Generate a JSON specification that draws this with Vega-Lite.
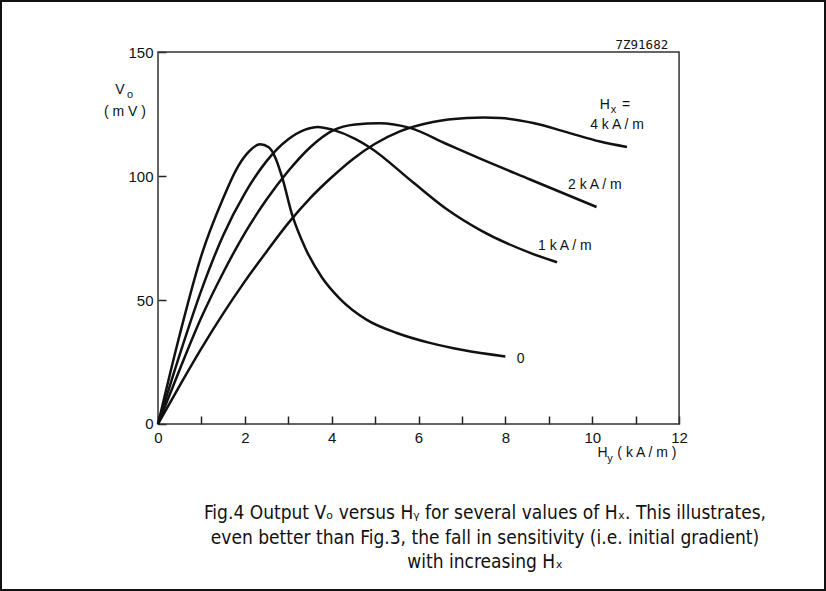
{
  "$schema": "https://vega.github.io/schema/vega-lite/v6.json",
  "width": 826,
  "height": 591,
  "padding": 0,
  "autosize": {"type": "none"},
  "background": "white",
  "config": {"view": {"stroke": "#111", "strokeWidth": 4}, "font": "Liberation Sans"},
  "datasets": {
    "box": [{"x": 0, "xe": 12, "y": 0, "ye": 150}],
    "curves": [
      {"s": "0", "x": 0, "y": 0}, {"s": "0", "x": 0.5, "y": 36}, {"s": "0", "x": 1.0, "y": 68}, {"s": "0", "x": 1.5, "y": 91},
      {"s": "0", "x": 1.8, "y": 102.5}, {"s": "0", "x": 2.05, "y": 109}, {"s": "0", "x": 2.35, "y": 112.8},
      {"s": "0", "x": 2.55, "y": 111.6}, {"s": "0", "x": 2.7, "y": 107.5}, {"s": "0", "x": 2.86, "y": 99.4}, {"s": "0", "x": 3.09, "y": 84.3},
      {"s": "0", "x": 3.39, "y": 71}, {"s": "0", "x": 3.78, "y": 59}, {"s": "0", "x": 4.19, "y": 50.5}, {"s": "0", "x": 4.81, "y": 42},
      {"s": "0", "x": 5.5, "y": 36.7}, {"s": "0", "x": 6.26, "y": 32.7}, {"s": "0", "x": 7.02, "y": 29.8}, {"s": "0", "x": 8.0, "y": 27.2},
      {"s": "1", "x": 0, "y": 0}, {"s": "1", "x": 0.5, "y": 28}, {"s": "1", "x": 1.0, "y": 54}, {"s": "1", "x": 1.5, "y": 76},
      {"s": "1", "x": 2.0, "y": 93}, {"s": "1", "x": 2.5, "y": 106}, {"s": "1", "x": 3.0, "y": 114.8},
      {"s": "1", "x": 3.39, "y": 118.7}, {"s": "1", "x": 3.68, "y": 119.8}, {"s": "1", "x": 4.03, "y": 118.6}, {"s": "1", "x": 4.54, "y": 115},
      {"s": "1", "x": 4.88, "y": 111.5}, {"s": "1", "x": 5.87, "y": 97.5}, {"s": "1", "x": 6.66, "y": 86.5}, {"s": "1", "x": 7.42, "y": 78.2},
      {"s": "1", "x": 8.57, "y": 69}, {"s": "1", "x": 9.19, "y": 65.2},
      {"s": "2", "x": 0, "y": 0}, {"s": "2", "x": 0.5, "y": 22}, {"s": "2", "x": 1.0, "y": 43}, {"s": "2", "x": 1.5, "y": 61},
      {"s": "2", "x": 2.0, "y": 77}, {"s": "2", "x": 2.5, "y": 90.5}, {"s": "2", "x": 3.0, "y": 102}, {"s": "2", "x": 3.5, "y": 111.5},
      {"s": "2", "x": 4.03, "y": 118.4}, {"s": "2", "x": 4.54, "y": 120.8}, {"s": "2", "x": 5.1, "y": 121.3}, {"s": "2", "x": 5.8, "y": 119.4},
      {"s": "2", "x": 6.66, "y": 112.8}, {"s": "2", "x": 7.42, "y": 107}, {"s": "2", "x": 8.57, "y": 98.6}, {"s": "2", "x": 10.1, "y": 87.5},
      {"s": "4", "x": 0, "y": 0}, {"s": "4", "x": 0.5, "y": 15.5}, {"s": "4", "x": 1.0, "y": 30.5}, {"s": "4", "x": 1.5, "y": 44.5},
      {"s": "4", "x": 2.0, "y": 57.5}, {"s": "4", "x": 2.5, "y": 69.5}, {"s": "4", "x": 3.0, "y": 81}, {"s": "4", "x": 3.5, "y": 91},
      {"s": "4", "x": 4.0, "y": 99.5}, {"s": "4", "x": 4.5, "y": 107}, {"s": "4", "x": 5.0, "y": 113}, {"s": "4", "x": 5.57, "y": 118},
      {"s": "4", "x": 6.33, "y": 121.8}, {"s": "4", "x": 7.11, "y": 123.4}, {"s": "4", "x": 7.5, "y": 123.6},
      {"s": "4", "x": 7.88, "y": 123.4}, {"s": "4", "x": 8.64, "y": 121.4}, {"s": "4", "x": 9.41, "y": 117.7}, {"s": "4", "x": 10.18, "y": 113.9},
      {"s": "4", "x": 10.8, "y": 111.7}
    ],
    "labels": [
      {"t": "V", "x": -0.875, "y": 134.7},
      {"t": "( m V )", "x": -0.76, "y": 125.8},
      {"t": "H", "x": 10.24, "y": -11.5},
      {"t": "( k A / m )", "x": 11.26, "y": -11.7},
      {"t": "H", "x": 10.29, "y": 128.6},
      {"t": "=", "x": 10.78, "y": 128.6},
      {"t": "4 k A / m", "x": 10.57, "y": 120.4},
      {"t": "2 k A / m", "x": 10.06, "y": 96.4},
      {"t": "1 k A / m", "x": 9.37, "y": 71.6},
      {"t": "0", "x": 8.35, "y": 26.4}
    ],
    "subs": [
      {"t": "o", "x": -0.645, "y": 132.7},
      {"t": "y", "x": 10.41, "y": -14.1},
      {"t": "x", "x": 10.49, "y": 126.6}
    ],
    "caption": [
      {"t": "Fig.4  Output Vₒ versus Hᵧ for several values of Hₓ. This illustrates,", "x": 7.53, "y": -35.9},
      {"t": "even better than Fig.3, the fall in sensitivity (i.e. initial gradient)", "x": 7.53, "y": -46.0},
      {"t": "with increasing Hₓ", "x": 7.53, "y": -55.6}
    ],
    "code": [{"t": "7Z91682", "x": 11.75, "y": 152.8}]
  },
  "encoding": {
    "x": {
      "field": "x", "type": "quantitative",
      "scale": {"domain": [-3.639, 15.384], "nice": false, "zero": false},
      "axis": {
        "orient": "bottom", "offset": -167, "values": [0, 1, 2, 3, 4, 5, 6, 7, 8, 9, 10, 11, 12],
        "labelExpr": "datum.value % 2 === 0 ? datum.label : ''",
        "domain": false, "grid": false, "tickSize": -8, "tickWidth": 1.5, "tickColor": "#222",
        "labelPadding": 14, "labelFontSize": 15, "labelFont": "Liberation Sans", "labelColor": "#111",
        "labelFlush": false, "labelOverlap": false, "title": null
      }
    },
    "y": {
      "field": "y", "type": "quantitative",
      "scale": {"domain": [-67.34, 170.97], "nice": false, "zero": false},
      "axis": {
        "orient": "left", "offset": -158, "values": [0, 50, 100, 150],
        "domain": false, "grid": false, "tickSize": -8, "tickWidth": 1.5, "tickColor": "#222",
        "labelPadding": 13, "labelFontSize": 15, "labelFont": "Liberation Sans", "labelColor": "#111",
        "labelFlush": false, "labelOverlap": false, "title": null
      }
    }
  },
  "layer": [
    {
      "data": {"name": "box"},
      "mark": {"type": "rect", "fill": null, "fillOpacity": 0, "stroke": "#333", "strokeWidth": 1.5},
      "encoding": {"x2": {"field": "xe"}, "y2": {"field": "ye"}}
    },
    {
      "data": {"name": "curves"},
      "mark": {"type": "line", "interpolate": "monotone", "stroke": "#111", "strokeWidth": 2.5},
      "encoding": {"detail": {"field": "s"}}
    },
    {
      "data": {"name": "labels"},
      "mark": {"type": "text", "fontSize": 14, "font": "Liberation Sans", "color": "#111", "align": "center", "baseline": "middle"},
      "encoding": {"text": {"field": "t"}}
    },
    {
      "data": {"name": "subs"},
      "mark": {"type": "text", "fontSize": 11, "font": "Liberation Sans", "color": "#111", "align": "center", "baseline": "middle"},
      "encoding": {"text": {"field": "t"}}
    },
    {
      "data": {"name": "caption"},
      "mark": {"type": "text", "fontSize": 19, "font": "Liberation Sans Narrow, DejaVu Sans Condensed, Liberation Sans", "color": "#111", "align": "center", "baseline": "middle"},
      "encoding": {"text": {"field": "t"}}
    },
    {
      "data": {"name": "code"},
      "mark": {"type": "text", "fontSize": 12.5, "font": "DejaVu Sans Mono", "color": "#111", "align": "right", "baseline": "middle"},
      "encoding": {"text": {"field": "t"}}
    }
  ]
}
